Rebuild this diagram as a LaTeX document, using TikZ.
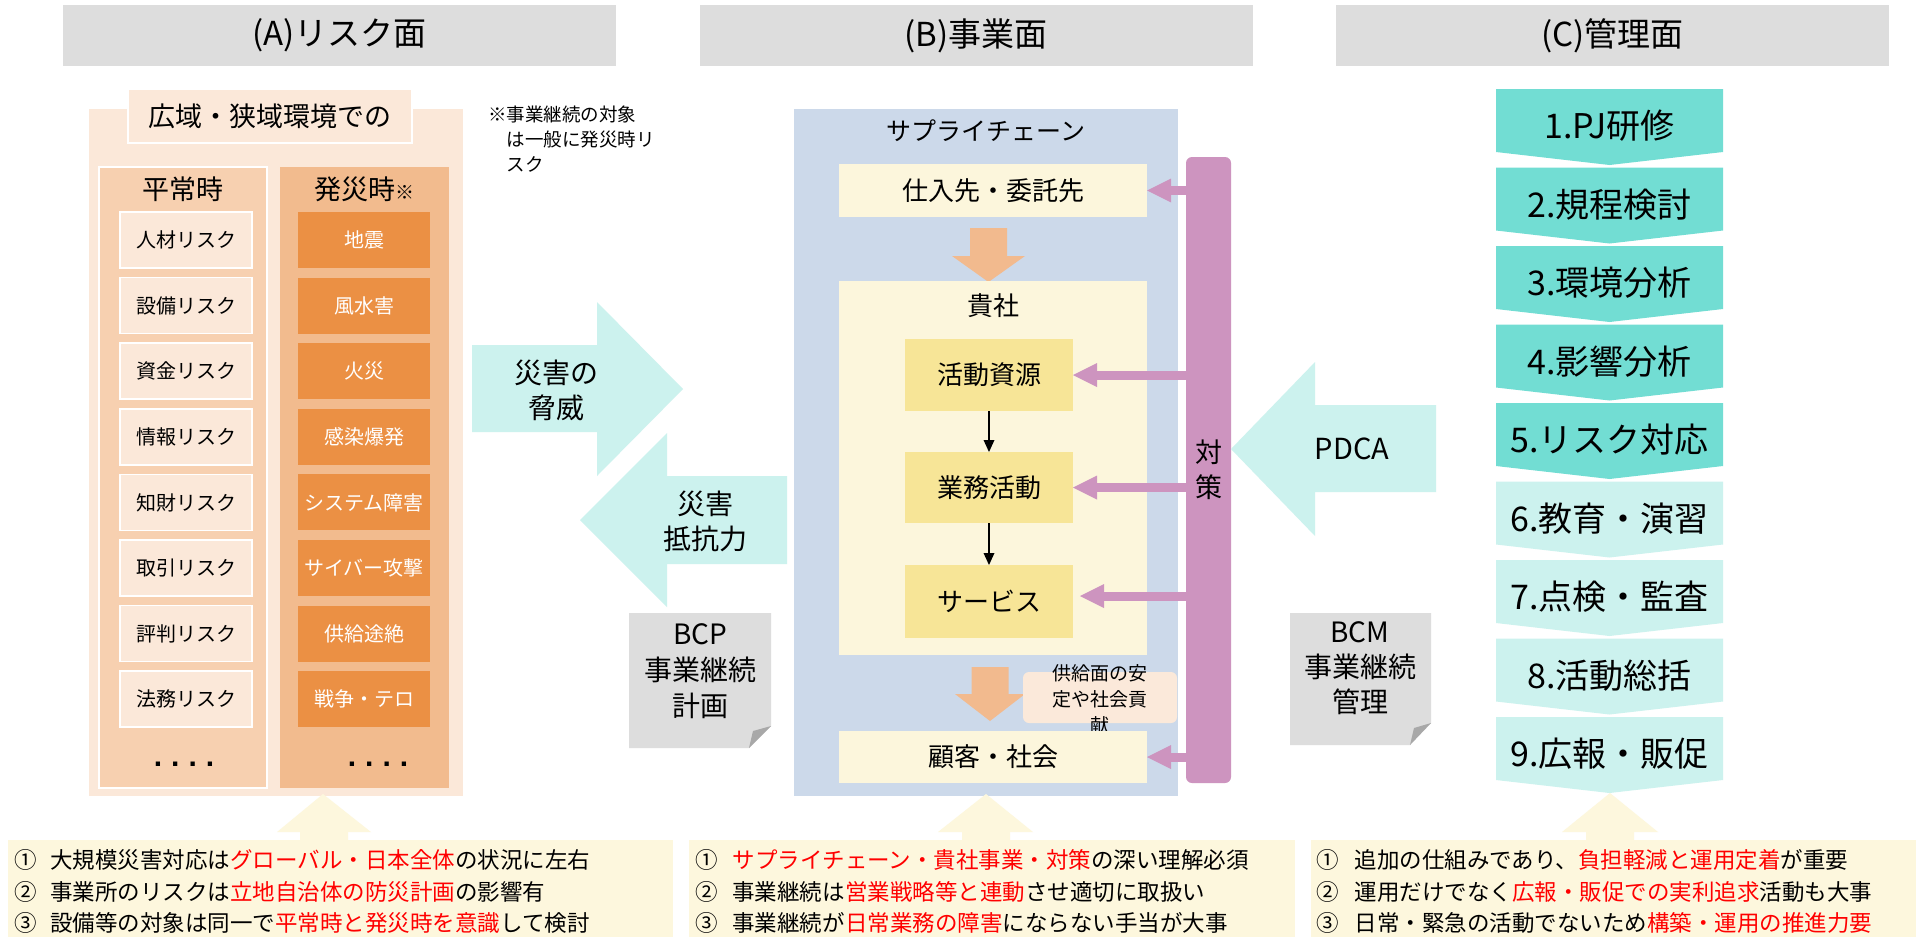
\documentclass[tikz,border=0pt]{standalone}
\usepackage{fontspec}
\setmainfont{Noto Sans CJK JP}
\newfontfamily\dotfont{Liberation Sans}
\usetikzlibrary{arrows.meta,calc}

\definecolor{barGray}{HTML}{DDDDDD}
\definecolor{peachL}{HTML}{FBE8D9}
\definecolor{peachM}{HTML}{F7D0B0}
\definecolor{peachD}{HTML}{F2BB8E}
\definecolor{orangeBox}{HTML}{EB9044}
\definecolor{scBlue}{HTML}{CCD9EA}
\definecolor{creamY}{HTML}{FCF6DC}
\definecolor{goldY}{HTML}{F7E597}
\definecolor{arrowOr}{HTML}{F2BA8E}
\definecolor{purpleBar}{HTML}{CD94BF}
\definecolor{cyanL}{HTML}{CCF2EE}
\definecolor{turq}{HTML}{72DDD3}
\definecolor{docGray}{HTML}{DDDDDD}
\definecolor{foldGray}{HTML}{A8A8A8}
\definecolor{noteY}{HTML}{FDF7DD}
\definecolor{pinkL}{HTML}{FBE9DA}
\definecolor{redT}{HTML}{FF0000}

\newcommand{\myfs}[1]{\fontsize{#1}{#1}\selectfont}
\newcommand{\fsz}[2]{\fontsize{#1}{#2}\selectfont}
\newcommand{\rd}[1]{\textcolor{redT}{#1}}

\begin{document}
\begin{tikzpicture}[x=1pt,y=-1pt,
  plain/.style={inner sep=0pt, outer sep=0pt},
  titlebar/.style={plain, fill=barGray, minimum width=553pt, minimum height=61pt, font=\myfs{33}},
  lbox/.style={plain, fill=peachL, draw=white, line width=1.5pt, minimum width=132pt, minimum height=56pt, font=\myfs{20}},
  rbox/.style={plain, fill=orangeBox, text=white, minimum width=132pt, minimum height=56pt, font=\myfs{20}},
  cream/.style={plain, fill=creamY, font=\myfs{26}},
  gold/.style={plain, fill=goldY, minimum width=168pt, font=\myfs{26}},
  parrow/.style={draw=purpleBar, line width=9pt, -{Triangle[length=24pt,width=24pt,line width=0pt]}},
  karrow/.style={draw=black, line width=1.5pt, -{Triangle[length=12pt,width=11pt,line width=0pt]}},
  bigtext/.style={plain, align=center, font=\fsz{28}{35}},
  notebox/.style={plain, fill=noteY, minimum height=97pt},
  noteline/.style={plain, anchor=west, font=\fsz{22.5}{27}}
]
\useasboundingbox (0,0) rectangle (1923,938);
\fill[white] (0,0) rectangle (1923,938);

% ---------- title bars ----------
\node[titlebar] (tA) at (339.5,35.5) {(A)リスク面};
\node[titlebar] (tB) at (976,35.5) {(B)事業面};
\node[titlebar] (tC) at (1612.5,35.5) {(C)管理面};

% ---------- (A) risk panel ----------
\node[plain, fill=peachL, minimum width=374pt, minimum height=687pt] (outerA) at (276,452.5) {};
\node[plain, fill=peachL, draw=white, line width=2pt, minimum width=284pt, minimum height=54pt, font=\myfs{27}] (labA) at (270,116) {広域・狭域環境での};
\node[plain, fill=peachM, draw=white, line width=1.5pt, minimum width=168pt, minimum height=621pt] (colL) at (183,477.5) {};
\node[plain, fill=peachD, minimum width=169pt, minimum height=621pt] (colR) at (364.5,477.5) {};
\node[plain, font=\myfs{27}] (hL) at (183,189) {平常時};
\node[plain, font=\myfs{27}] (hR) at (364,189) {発災時{\myfs{19}※}};

\foreach \t [count=\i from 0] in {人材リスク,設備リスク,資金リスク,情報リスク,知財リスク,取引リスク,評判リスク,法務リスク}
  \node[lbox] (L\i) at (186,{240+65.6*\i}) {\t};
\foreach \t [count=\i from 0] in {地震,風水害,火災,感染爆発,システム障害,サイバー攻撃,供給途絶,戦争・テロ}
  \node[rbox] (R\i) at (364,{240+65.6*\i}) {\t};

\node[plain, font=\dotfont\bfseries\myfs{30}] (dL) at (184,764) {.\hspace{9pt}.\hspace{9pt}.\hspace{9pt}.};
\node[plain, font=\dotfont\bfseries\myfs{30}] (dR) at (378,764) {.\hspace{9pt}.\hspace{9pt}.\hspace{9pt}.};

\node[plain, anchor=west, align=left, font=\fsz{18.5}{25}] (remark) at (488,139) {※事業継続の対象\\　は一般に発災時リ\\　スク};

% ---------- big cyan arrows ----------
\fill[cyanL] (472,345) -- (597,345) -- (597,302) -- (683,389) -- (597,476) -- (597,432) -- (472,432) -- cycle;
\node[bigtext] (threat) at (556,390) {災害の\\脅威};
\fill[cyanL] (787,476) -- (667,476) -- (667,433) -- (580,520) -- (667,607) -- (667,564) -- (787,564) -- cycle;
\node[bigtext] (resist) at (705,521) {災害\\抵抗力};

% BCP document
\fill[docGray] (629,613) -- (771,613) -- (771,726) -- (749,748) -- (629,748) -- cycle;
\fill[foldGray] (771,726) -- (749,748) -- (753,731) -- cycle;
\node[bigtext, font=\fsz{28}{36}] (bcp) at (700,671) {BCP\\事業継続\\計画};

% ---------- (B) business panel ----------
\node[plain, fill=scBlue, minimum width=384pt, minimum height=687pt] (sc) at (986,452.5) {};
\node[plain, font=\myfs{25}] (scT) at (986,131) {サプライチェーン};
\node[cream, minimum width=308pt, minimum height=53pt] (sup) at (993,190.5) {仕入先・委託先};
\fill[arrowOr] (970,228) -- (1007,228) -- (1007,256) -- (1025,256) -- (988.5,282) -- (952,256) -- (970,256) -- cycle;
\node[plain, fill=creamY, minimum width=308pt, minimum height=374pt] (co) at (993,468) {};
\node[plain, font=\myfs{26}] (coT) at (993,306) {貴社};
\node[gold, minimum height=72pt] (res) at (989,375) {活動資源};
\node[gold, minimum height=71pt] (ops) at (989,487.5) {業務活動};
\node[gold, minimum height=73pt] (svc) at (989,601.5) {サービス};
\draw[karrow] (res) -- (ops);
\draw[karrow] (ops) -- (svc);
\fill[arrowOr] (971.5,667) -- (1008.5,667) -- (1008.5,694) -- (1025,694) -- (990,721) -- (955,694) -- (971.5,694) -- cycle;
\node[plain, fill=pinkL, rounded corners=6pt, minimum width=154pt, minimum height=51pt] (supn) at (1100,697.5) {};
\node[plain, align=center, font=\fsz{19}{26}] (supnT) at (1100,699) {供給面の安\\定や社会貢\\献};
\node[cream, minimum width=308pt, minimum height=52pt] (cus) at (993,757) {顧客・社会};

\node[plain, fill=purpleBar, rounded corners=6pt, minimum width=45pt, minimum height=626pt, align=center, font=\fsz{27}{35}] (bar) at (1208.5,470) {対\\策};
\coordinate (svcIn) at ($(svc.east)+(7,-5.5)$);
\draw[parrow] (bar.west |- sup.east) -- (sup.east);
\draw[parrow] (bar.west |- res.east) -- (res.east);
\draw[parrow] (bar.west |- ops.east) -- (ops.east);
\draw[parrow] (bar.west |- svcIn) -- (svcIn);
\draw[parrow] (bar.west |- cus.east) -- (cus.east);

% PDCA arrow
\fill[cyanL] (1436,405) -- (1315,405) -- (1315,362) -- (1231,449) -- (1315,536) -- (1315,492) -- (1436,492) -- cycle;
\node[plain, font=\myfs{29}] (pdca) at (1352,449) {PDCA};

% BCM document
\fill[docGray] (1290,613) -- (1431,613) -- (1431,723) -- (1410,745) -- (1290,745) -- cycle;
\fill[foldGray] (1431,723) -- (1410,745) -- (1414,728) -- cycle;
\node[bigtext] (bcm) at (1360,668) {BCM\\事業継続\\管理};

% ---------- (C) management chevrons ----------
\foreach \lab [count=\i] in {1.PJ研修,2.規程検討,3.環境分析,4.影響分析,5.リスク対応,6.教育・演習,7.点検・監査,8.活動総括,9.広報・販促} {
  \pgfmathsetmacro\T{89+78.5*(\i-1)}
  \ifnum\i<6 \def\cc{turq}\else\def\cc{cyanL}\fi
  \fill[\cc] (1496,\T) -- (1723,\T) -- (1723,{\T+63}) -- (1609.5,{\T+76}) -- (1496,{\T+63}) -- cycle;
  \node[plain, font=\myfs{34}] (c\i) at (1609.5,{\T+37}) {\lab};
}

% ---------- bottom notes ----------
\node[notebox, minimum width=665pt] (nA) at (340.5,888.5) {};
\node[notebox, minimum width=606pt] (nB) at (992,888.5) {};
\node[notebox, minimum width=605pt] (nC) at (1613.5,888.5) {};
\fill[noteY] (300,841) -- (300,832) -- (277,832) -- (323,794) -- (371,832) -- (348,832) -- (348,841) -- cycle;
\fill[noteY] (962,841) -- (962,832) -- (938,832) -- (986,794) -- (1033,832) -- (1010,832) -- (1010,841) -- cycle;
\fill[noteY] (1586,841) -- (1586,832) -- (1562,832) -- (1610,793) -- (1658,832) -- (1634,832) -- (1634,841) -- cycle;

\node[noteline] (nA1) at (14,860) {①\hspace{14pt}大規模災害対応は\rd{グローバル・日本全体}の状況に左右};
\node[noteline] (nA2) at (14,892) {②\hspace{14pt}事業所のリスクは\rd{立地自治体の防災計画}の影響有};
\node[noteline] (nA3) at (14,923) {③\hspace{14pt}設備等の対象は同一で\rd{平常時と発災時を意識}して検討};

\node[noteline] (nB1) at (695,860) {①\hspace{15pt}\rd{サプライチェーン・貴社事業・対策}の深い理解必須};
\node[noteline] (nB2) at (695,892) {②\hspace{15pt}事業継続は\rd{営業戦略等と連動}させ適切に取扱い};
\node[noteline] (nB3) at (695,923) {③\hspace{15pt}事業継続が\rd{日常業務の障害}にならない手当が大事};

\node[noteline] (nC1) at (1316,860) {①\hspace{16pt}追加の仕組みであり、\rd{負担軽減と運用定着}が重要};
\node[noteline] (nC2) at (1316,892) {②\hspace{16pt}運用だけでなく\rd{広報・販促での実利追求}活動も大事};
\node[noteline] (nC3) at (1316,923) {③\hspace{16pt}日常・緊急の活動でないため\rd{構築・運用の推進力要}};
\end{tikzpicture}
\end{document}
